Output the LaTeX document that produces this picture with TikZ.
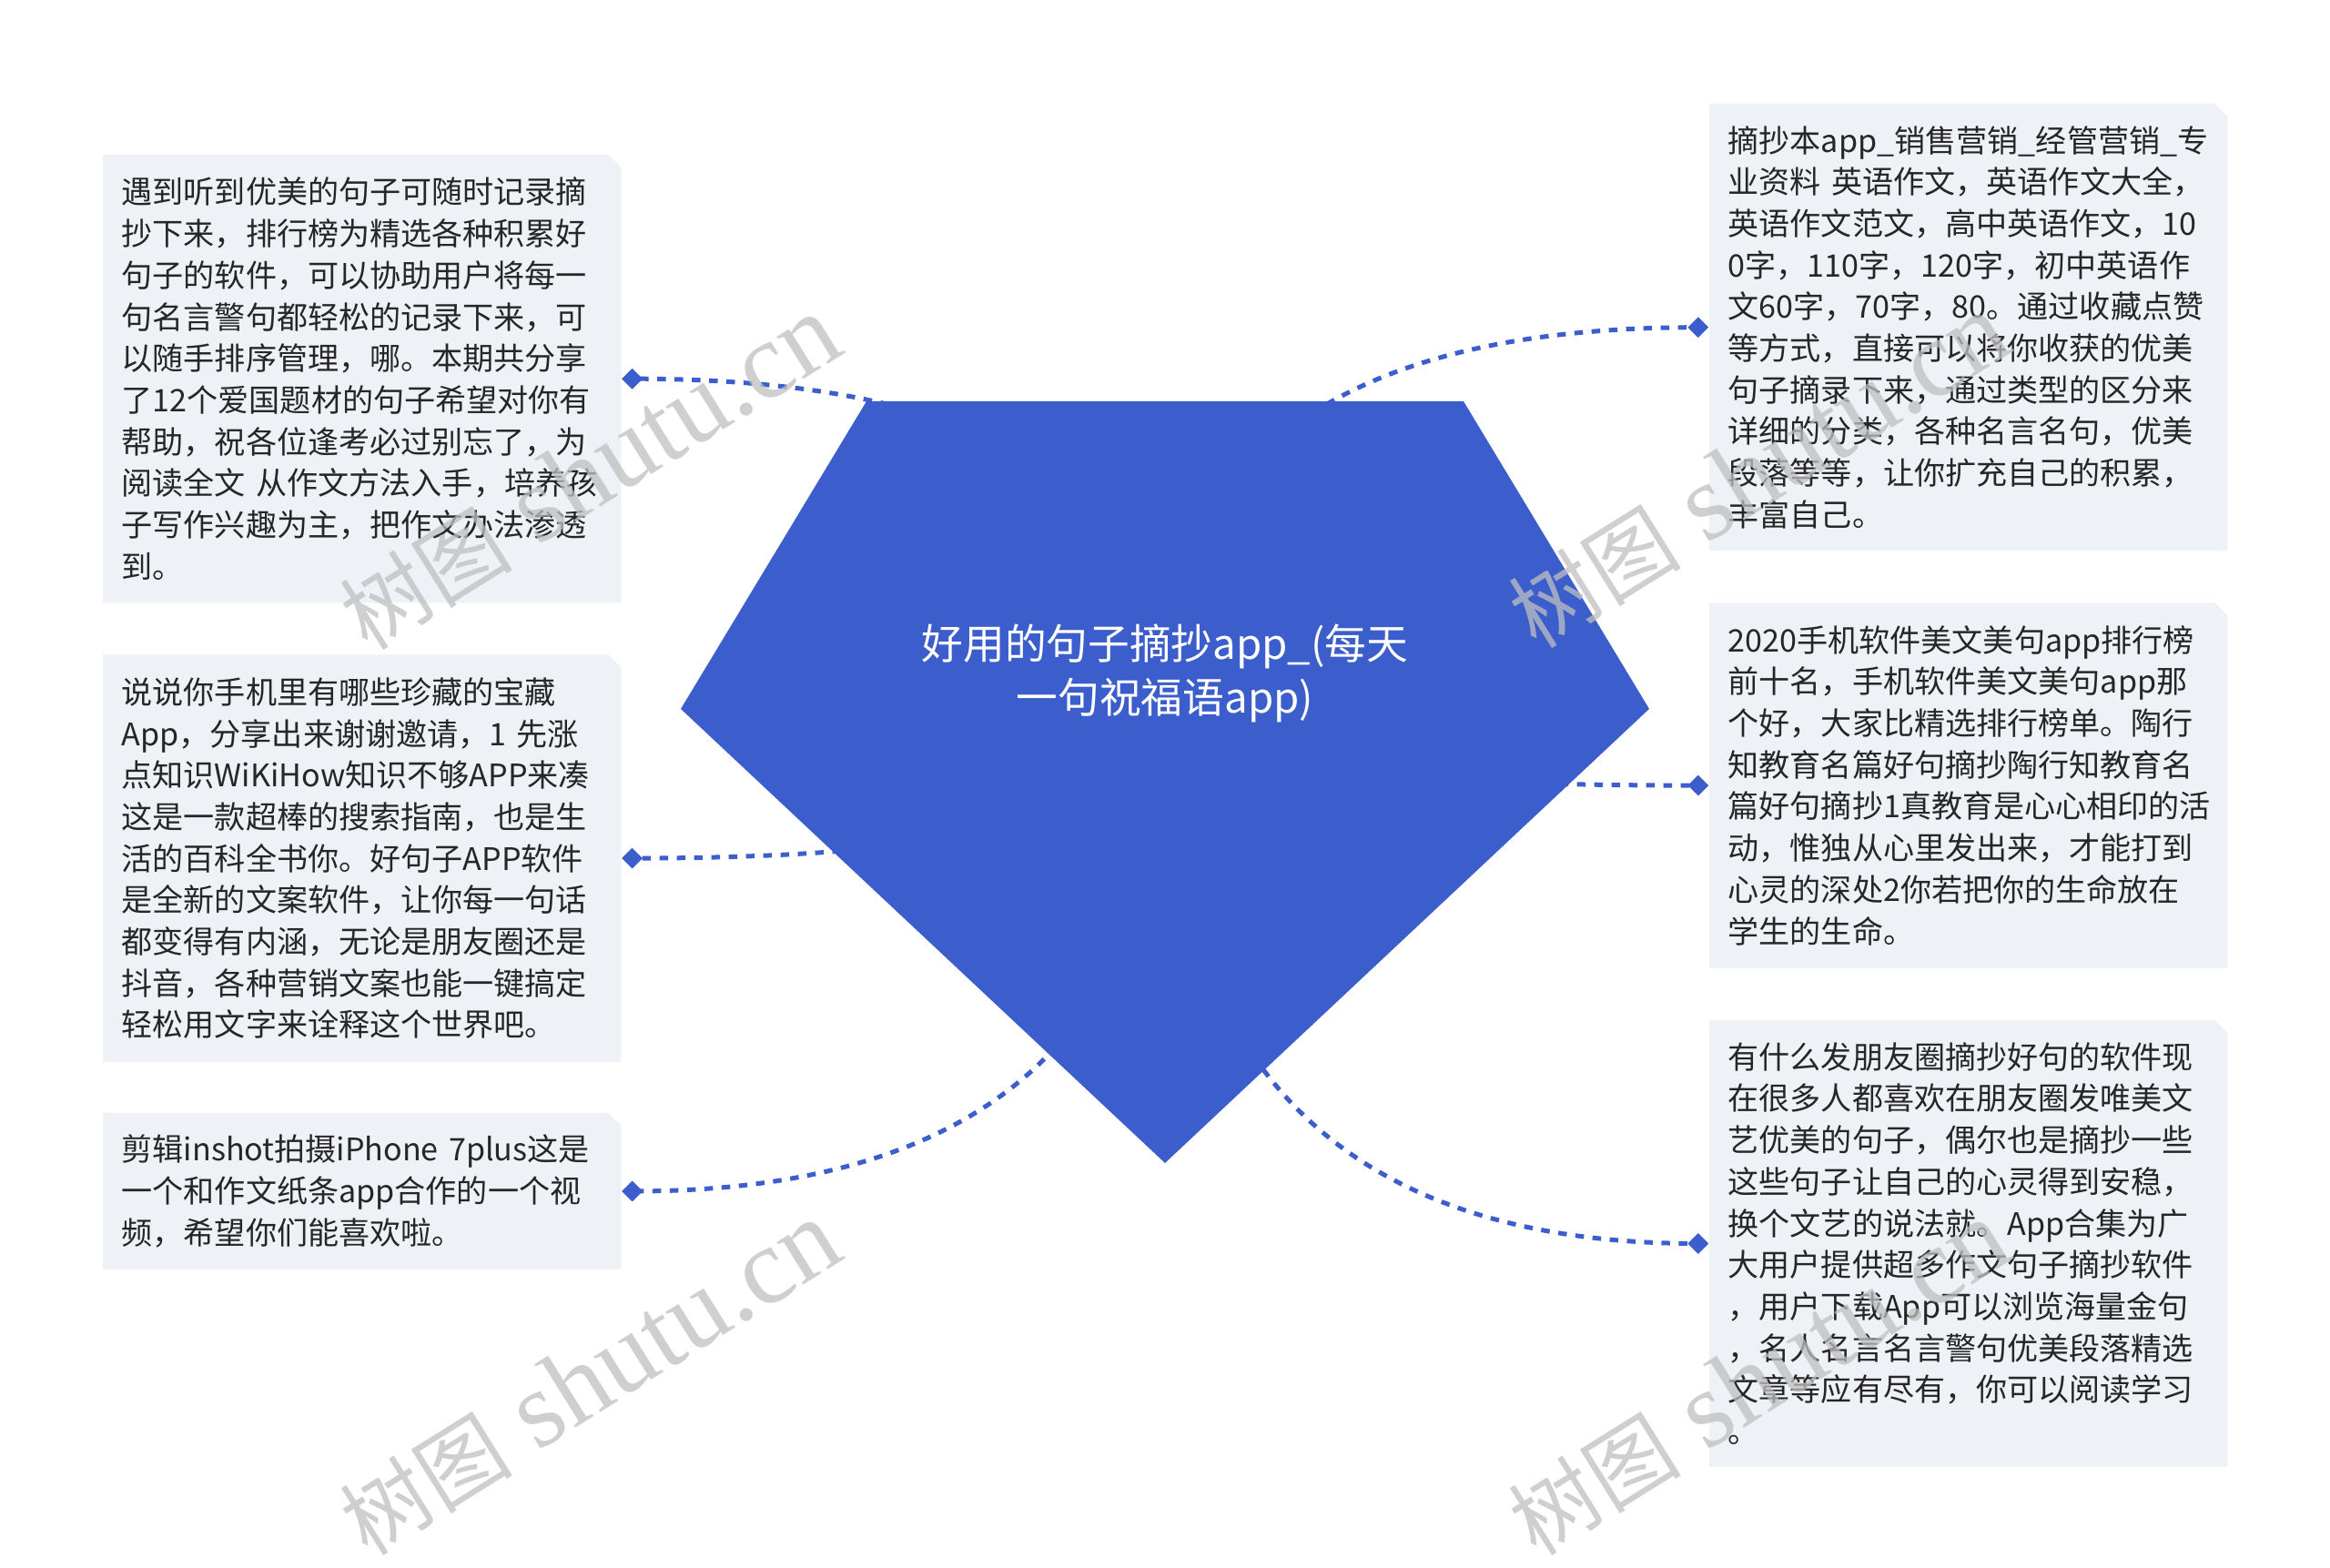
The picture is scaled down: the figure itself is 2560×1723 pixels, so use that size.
\documentclass[tikz,border=0pt]{standalone}
\usepackage{fontspec}
\setmainfont{Noto Sans CJK SC}
\newfontfamily\cjk{Noto Sans CJK SC}
\newfontfamily\wmfont{Liberation Serif}
\usetikzlibrary{shapes.geometric,positioning,calc,backgrounds}

\definecolor{hubblue}{RGB}{59,94,204}
\definecolor{notefill}{RGB}{238,241,245}
\definecolor{notetext}{RGB}{38,38,38}

\begin{document}
\begin{tikzpicture}[x=0.1mm, y=-0.1mm,
  note/.style={rectangle, text=notetext, align=left, text width=52.8mm,
    inner xsep=2mm, inner ysep=0pt, font=\fontsize{9.7pt}{13pt}\selectfont},
  dot/.style={diamond, fill=hubblue, inner sep=0pt, minimum size=2.3mm},
  link/.style={hubblue, line width=0.5mm, dash pattern=on 0.95mm off 0.95mm},
  title/.style={text=white, align=center, font=\fontsize{13pt}{16.7pt}\selectfont},
  wmark/.style={text=black!25, opacity=0.75, rotate=32,
    font=\wmfont\fontsize{34pt}{34pt}\selectfont}]
\useasboundingbox (0,0) rectangle (2560,1723);

% left notes
\node[note, anchor=north west, minimum height=49.1mm] (l1) at (113,170)
  {遇到听到优美的句子可随时记录摘\\抄下来，排行榜为精选各种积累好\\句子的软件，可以协助用户将每一\\句名言警句都轻松的记录下来，可\\以随手排序管理，哪。本期共分享\\了12个爱国题材的句子希望对你有\\帮助，祝各位逢考必过别忘了，为\\阅读全文 从作文方法入手，培养孩\\子写作兴趣为主，把作文办法渗透\\到。};
\node[note, below=5.7mm of l1, minimum height=44.6mm] (l2)
  {说说你手机里有哪些珍藏的宝藏\\App，分享出来谢谢邀请，1 先涨\\点知识WiKiHow知识不够APP来凑\\这是一款超棒的搜索指南，也是生\\活的百科全书你。好句子APP软件\\是全新的文案软件，让你每一句话\\都变得有内涵，无论是朋友圈还是\\抖音，各种营销文案也能一键搞定\\轻松用文字来诠释这个世界吧。};
\node[note, below=5.6mm of l2, minimum height=17.1mm] (l3)
  {剪辑inshot拍摄iPhone 7plus这是\\一个和作文纸条app合作的一个视\\频，希望你们能喜欢啦。};

% right notes
\node[note, anchor=north west, minimum height=49mm] (r1) at (1878,114)
  {摘抄本app\_销售营销\_经管营销\_专\\业资料 英语作文，英语作文大全，\\英语作文范文，高中英语作文，10\\0字，110字，120字，初中英语作\\文60字，70字，80。通过收藏点赞\\等方式，直接可以将你收获的优美\\句子摘录下来，通过类型的区分来\\详细的分类，各种名言名句，优美\\段落等等，让你扩充自己的积累，\\丰富自己。};
\node[note, below=5.7mm of r1, minimum height=40mm] (r2)
  {2020手机软件美文美句app排行榜\\前十名，手机软件美文美句app那\\个好，大家比精选排行榜单。陶行\\知教育名篇好句摘抄陶行知教育名\\篇好句摘抄1真教育是心心相印的活\\动，惟独从心里发出来，才能打到\\心灵的深处2你若把你的生命放在\\学生的生命。};
\node[note, below=5.7mm of r2, minimum height=49mm] (r3)
  {有什么发朋友圈摘抄好句的软件现\\在很多人都喜欢在朋友圈发唯美文\\艺优美的句子，偶尔也是摘抄一些\\这些句子让自己的心灵得到安稳，\\换个文艺的说法就。App合集为广\\大用户提供超多作文句子摘抄软件\\，用户下载App可以浏览海量金句\\，名人名言名言警句优美段落精选\\文章等应有尽有，你可以阅读学习\\。};

% note backgrounds with the cut corner
\begin{scope}[on background layer]
\foreach \n in {l1,l2,l3,r1,r2,r3}
  \fill[notefill] (\n.south west) -- (\n.north west) -- ([xshift=-1.4mm]\n.north east)
    -- ([yshift=-1.4mm]\n.north east) -- (\n.south east) -- cycle;
\end{scope}

% end markers
\node[dot, right=0mm of l1] (l1d) {};
\node[dot, right=0mm of l2] (l2d) {};
\node[dot, right=0mm of l3] (l3d) {};
\node[dot, left=0mm of r1] (r1d) {};
\node[dot, left=0mm of r2] (r2d) {};
\node[dot, left=0mm of r3] (r3d) {};

% connectors, then the hub drawn over them
\coordinate (hub) at (1280,779);
\foreach \d in {l1d,l2d,l3d,r1d,r2d,r3d}
  \draw[link] (hub) .. controls ($(hub)!.667!(hub |- \d)$) and ($(\d)!.667!(hub |- \d)$) .. (\d.center);
\fill[hubblue] (952,441) -- (1608,441) -- (1812,779) -- (1280,1278) -- (748,779) -- cycle;
\node[title] (topic) at (1280,740) {好用的句子摘抄app\_(每天\\一句祝福语app)};
\foreach \d in {l1d,l2d,l3d,r1d,r2d,r3d}
  \node[dot] at (\d) {};

% watermarks
\node[wmark] (wm1) at (648,520) {{\cjk\fontsize{27pt}{27pt}\selectfont 树图} shutu.cn};
\node[wmark] (wm2) at (648,1515) {{\cjk\fontsize{27pt}{27pt}\selectfont 树图} shutu.cn};
\node[wmark] (wm3) at (1932,518) {{\cjk\fontsize{27pt}{27pt}\selectfont 树图} shutu.cn};
\node[wmark] (wm4) at (1932,1515) {{\cjk\fontsize{27pt}{27pt}\selectfont 树图} shutu.cn};
\end{tikzpicture}
\end{document}
